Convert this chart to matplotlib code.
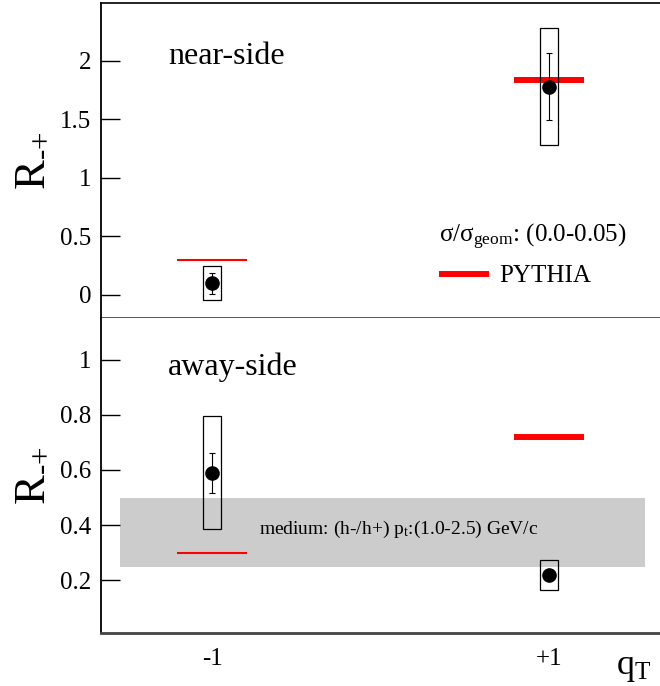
import matplotlib
matplotlib.use("Agg")
import matplotlib.pyplot as plt
from matplotlib.ticker import FuncFormatter

plt.rcParams['font.family'] = ['Liberation Serif', 'DejaVu Serif']
plt.rcParams['mathtext.fontset'] = 'custom'
plt.rcParams['mathtext.rm'] = 'Liberation Serif'
plt.rcParams['mathtext.it'] = 'Liberation Serif:italic'

# q_T bins
qt = [-1, 1]
qt_labels = ['-1', '+1']

# near-side data
near_val = [0.10, 1.78]
near_stat = [0.09, 0.29]
near_sys = [0.145, 0.50]
near_pythia = [0.30, 1.84]

# away-side data
away_val = [0.59, 0.22]
away_stat = [0.073, 0.01]
away_sys = [0.205, 0.055]
away_pythia = [0.30, 0.72]

# medium band (h-/h+)
medium_lo = 0.25
medium_hi = 0.50
medium_x = [-1.55, 1.57]

pythia_lw = [1.5, 4.3]   # thin line at -1, thick at +1
box_w = 0.11
half_w = 0.21

fig = plt.figure(figsize=(6.6, 6.86), dpi=100)
ax1 = fig.add_axes([0.153, 0.536, 0.847, 0.459])
ax2 = fig.add_axes([0.153, 0.0777, 0.847, 0.4583])


def draw_panel(ax, val, stat, sys, pythia, label_lw):
    for i in range(len(qt)):
        ax.hlines(pythia[i], qt[i] - half_w, qt[i] + half_w, color='red',
                  lw=label_lw[i], zorder=2,
                  label='PYTHIA' if i == 1 else None)
    lo = [v - s for v, s in zip(val, sys)]
    ax.bar(qt, [2 * s for s in sys], bottom=lo, width=box_w, fill=False,
           edgecolor='black', lw=0.9, zorder=3)
    ax.errorbar(qt, val, yerr=stat, fmt='o', color='black', ms=9.5,
                elinewidth=0.8, capsize=2, capthick=0.8, zorder=4)
    ax.set_xlim(-1.66, 1.66)
    ax.tick_params(axis='y', direction='in', length=14, width=1,
                   labelsize=18, pad=7)
    ax.tick_params(axis='x', length=0, labelsize=18, pad=11)
    ax.yaxis.set_major_formatter(FuncFormatter(lambda v, p: '%g' % v))
    ax.spines['right'].set_visible(False)
    ax.spines['left'].set_linewidth(1.3)
    ax.set_ylabel(r'R$_{\text{-+}}$', fontsize=32)
    ax.yaxis.set_label_coords(-0.088, 0.5)


draw_panel(ax1, near_val, near_stat, near_sys, near_pythia, pythia_lw)
draw_panel(ax2, away_val, away_stat, away_sys, away_pythia, pythia_lw)

# top panel
ax1.set_ylim(-0.2, 2.49)
ax1.set_yticks([0, 0.5, 1, 1.5, 2])
ax1.set_xticks([])
ax1.spines['bottom'].set_color('#444444')
ax1.spines['bottom'].set_linewidth(2)
ax1.spines['top'].set_linewidth(1.2)
ax1.text(0.12, 0.83, 'near-side', transform=ax1.transAxes, fontsize=23,
         va='center', ha='left')
leg = ax1.legend(loc='upper left', bbox_to_anchor=(0.605, 0.305), frameon=False,
                 title=r'σ/σ$_{\mathrm{geom}}$: (0.0-0.05)', title_fontsize=18,
                 fontsize=18, handlelength=2.0, handletextpad=0.4,
                 borderpad=0, borderaxespad=0)
leg._legend_box.align = 'left'

# bottom panel
ax2.axhspan(medium_lo, medium_hi, xmin=(medium_x[0] + 1.66) / 3.32,
            xmax=(medium_x[1] + 1.66) / 3.32, color='#cccccc', lw=0, zorder=1)
ax2.set_ylim(0.01, 1.15)
ax2.set_yticks([0.2, 0.4, 0.6, 0.8, 1.0])
ax2.set_xticks(qt)
ax2.set_xticklabels(qt_labels)
ax2.spines['top'].set_visible(False)
ax2.spines['bottom'].set_color('#444444')
ax2.spines['bottom'].set_linewidth(2)
ax2.text(0.12, 0.845, 'away-side', transform=ax2.transAxes, fontsize=23,
         va='center', ha='left')
ax2.text(0.283, 0.327, r'medium: (h-/h+) p$_{\mathrm{t}}$:(1.0-2.5) GeV/c',
         transform=ax2.transAxes, fontsize=14, va='center', ha='left', zorder=5)
ax2.set_xlabel(r'q$_{\mathrm{T}}$', fontsize=26, ha='right', va='center')
ax2.xaxis.set_label_coords(0.985, -0.11)

fig.savefig('out.png', dpi=100)
